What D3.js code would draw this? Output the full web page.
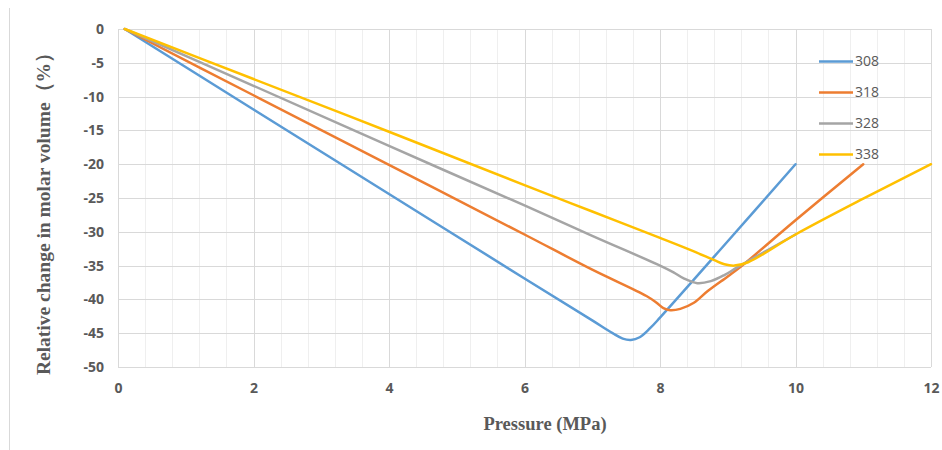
<!DOCTYPE html>
<html>
<head>
<meta charset="utf-8">
<script src="https://cdn.jsdelivr.net/npm/d3@7"></script>
<style>
	body { margin: 0; background: #fff; }
	svg { display: block; }
</style>
</head>
<body>
<svg id="chart" width="942" height="450"></svg>
<script>
// temperatures (K)
var seriesNames = ["308", "318", "328", "338"];
var seriesColors = ["#5b9bd5", "#ed7d31", "#a5a5a5", "#ffc000"];

// [pressure MPa, relative change %]
var s308 = [[0.1, 0], [2, -11.9], [4, -24.4], [6, -36.9], [7, -43.1], [7.3, -45], [7.45, -45.8], [7.57, -46.0], [7.7, -45.6], [7.85, -44.3], [8, -42.7], [9, -31.4], [10, -20]];
var s318 = [[0.1, 0], [2, -9.8], [4, -20.1], [6, -30.4], [7, -35.6], [7.8, -39.5], [7.95, -40.5], [8.05, -41.3], [8.15, -41.6], [8.3, -41.4], [8.5, -40.5], [8.7, -38.8], [9, -36.6], [9.2, -35.1], [10, -28.3], [11, -20]];
var s328 = [[0.1, 0], [2, -8.4], [4, -17.3], [6, -26.1], [7, -30.6], [8, -35.0], [8.2, -36.0], [8.35, -36.9], [8.55, -37.6], [8.75, -37.3], [8.95, -36.4], [9.15, -35.2], [10, -30.4]];
var s338 = [[0.1, 0], [2, -7.4], [4, -15.2], [6, -23.1], [7, -27.0], [8, -30.9], [8.5, -32.9], [8.8, -34.2], [8.95, -34.8], [9.1, -35.0], [9.3, -34.5], [10, -30.4], [11, -25.1], [12, -20]];
var allSeries = [s308, s318, s328, s338];

var xTicks = [0, 2, 4, 6, 8, 10, 12];
var yTicks = [0, -5, -10, -15, -20, -25, -30, -35, -40, -45, -50];

var svg = d3.select("#chart");
// NOTE: window.top is read-only, so no plain "top" here
var plotLeft = 118, plotRight = 931, plotTop = 29, plotBottom = 367;

var x = d3.scaleLinear().domain([0, 12]).range([plotLeft, plotRight]);
var y = d3.scaleLinear().domain([-50, 0]).range([plotBottom, plotTop]);

var labelFont = "'Open Sans', 'Liberation Sans', sans-serif";
var titleFont = "'Liberation Serif', 'DejaVu Serif', serif";
var textColor = "#595959";

// outer frame edge on the left
svg.append("line")
	.attr("x1", 9.5).attr("x2", 9.5)
	.attr("y1", 8).attr("y2", 450)
	.attr("stroke", "#d9d9d9");

// minor vertical grid every 0.4
var gGrid = svg.append("g").attr("class", "grid");
gGrid.selectAll(".minor").data(d3.range(0, 30).map(function(i) { return i * 0.4; }))
	.enter().append("line")
	.attr("class", "minor")
	.attr("x1", function(d) { return Math.round(x(d)) + 0.5; })
	.attr("x2", function(d) { return Math.round(x(d)) + 0.5; })
	.attr("y1", plotTop).attr("y2", plotBottom)
	.attr("stroke", "#efefef");

gGrid.selectAll(".hmajor").data(yTicks)
	.enter().append("line")
	.attr("class", "hmajor")
	.attr("x1", plotLeft).attr("x2", plotRight)
	.attr("y1", function(d) { return Math.round(y(d)) + 0.5; })
	.attr("y2", function(d) { return Math.round(y(d)) + 0.5; })
	.attr("stroke", "#d9d9d9");

gGrid.selectAll(".vmajor").data(xTicks)
	.enter().append("line")
	.attr("class", "vmajor")
	.attr("x1", function(d) { return Math.round(x(d)) + 0.5; })
	.attr("x2", function(d) { return Math.round(x(d)) + 0.5; })
	.attr("y1", plotTop).attr("y2", plotBottom)
	.attr("stroke", "#d9d9d9");

// axes (ticks hidden, labels only)
var xAxis = svg.append("g")
	.attr("transform", "translate(0," + (plotBottom + 16) + ")")
	.call(d3.axisBottom(x).tickValues(xTicks).tickSize(0).tickPadding(0));
xAxis.select(".domain").remove();
xAxis.selectAll("text")
	.attr("font-family", labelFont).attr("font-size", 14).attr("font-weight", "bold")
	.attr("fill", textColor).attr("dy", "0.71em");

var yAxis = svg.append("g")
	.attr("transform", "translate(" + (plotLeft - 14) + ",0)")
	.call(d3.axisLeft(y).tickValues(yTicks).tickSize(0).tickPadding(0));
yAxis.select(".domain").remove();
yAxis.selectAll("text")
	.attr("font-family", labelFont).attr("font-size", 14).attr("font-weight", "bold")
	.attr("fill", textColor)
	.text(function(d) { return String(d); }); // plain hyphen like the original

// series
var line = d3.line()
	.x(function(d) { return x(d[0]); })
	.y(function(d) { return y(d[1]); })
	.curve(d3.curveCatmullRom.alpha(0.5));

svg.append("g").attr("class", "data")
	.selectAll("path").data(allSeries)
	.enter().append("path")
	.attr("d", line)
	.attr("fill", "none")
	.attr("stroke", function(d, i) { return seriesColors[i]; })
	.attr("stroke-width", 2.5)
	.attr("stroke-linejoin", "round")
	.attr("stroke-linecap", "round");

// legend
var gLegend = svg.append("g").attr("class", "legend");
var legendRows = gLegend.selectAll("g").data(seriesNames)
	.enter().append("g")
	.attr("transform", function(d, i) { return "translate(819," + (61.5 + i * 31) + ")"; });
legendRows.append("line")
	.attr("x1", 0).attr("x2", 34)
	.attr("stroke", function(d, i) { return seriesColors[i]; })
	.attr("stroke-width", 2.5);
legendRows.append("text")
	.attr("x", 36).attr("dy", "0.35em")
	.attr("font-family", labelFont).attr("font-size", 14)
	.attr("fill", textColor)
	.text(function(d) { return d; });

// axis titles
svg.append("text")
	.attr("transform", "translate(50,209) rotate(-90)")
	.attr("text-anchor", "middle")
	.attr("font-family", titleFont).attr("font-size", 19.5).attr("font-weight", "bold")
	.attr("fill", textColor)
	.text("Relative change in molar volume（%）");

svg.append("text")
	.attr("x", 545).attr("y", 430)
	.attr("text-anchor", "middle")
	.attr("font-family", titleFont).attr("font-size", 18.5).attr("font-weight", "bold")
	.attr("fill", textColor)
	.text("Pressure (MPa)");
</script>
</body>
</html>
